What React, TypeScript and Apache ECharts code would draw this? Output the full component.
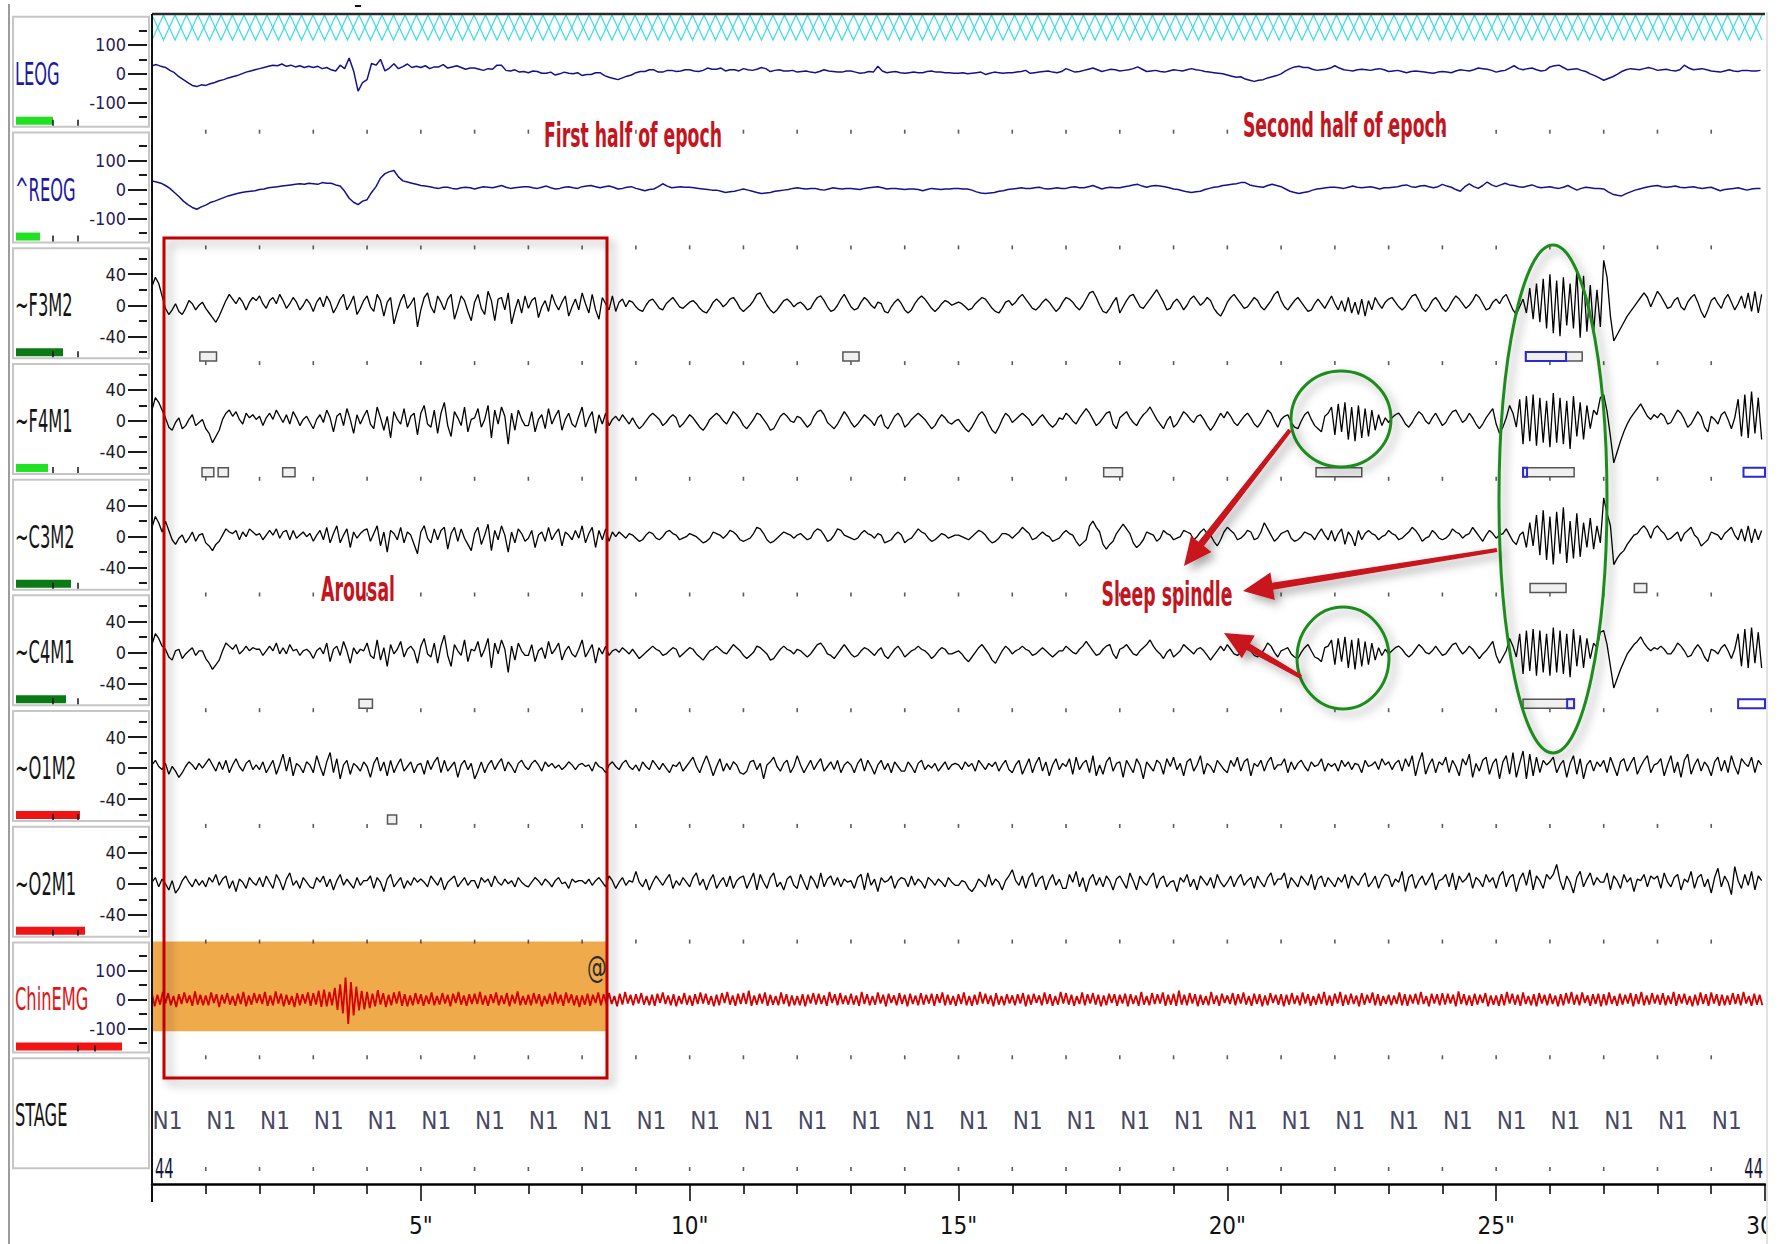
import React, { useEffect, useRef } from "react";
import * as echarts from "echarts";

// ---------------- data ----------------
const epochSeconds = 30;
const eogRate = 12; // samples per second
const eegRate = 16;
const emgRate = 20;

const channelNames = ["LEOG", "^REOG", "~F3M2", "~F4M1", "~C3M2", "~C4M1", "~O1M2", "~O2M1", "ChinEMG"];
const eogMajorTicks = [-100, 0, 100];
const eogMinorTicks = [-150, -50, 50, 150];
const eegMajorTicks = [-40, 0, 40];
const eegMinorTicks = [-60, -20, 20, 60];

const leog = [
  28, 32, 26, 22, 12, 4, -10, -20, -30, -40, -44, -38,
  -40, -34, -30, -24, -20, -14, -10, -6, 0, 6, 10, 14,
  18, 22, 26, 30, 28, 34, 26, 30, 24, 28, 22, 26,
  22, 26, 18, 22, 14, 10, 30, 18, 55, 10, -60, -30,
  -20, 36, 30, 50, 10, 20, 35, 18, 25, 34, 22, 26,
  22, 28, 18, 24, 24, 32, 20, 24, 28, 22, 16, 20,
  20, 16, 12, 18, 16, 30, 30, 12, 10, 14, 6, 8,
  4, 10, 8, 2, 2, 6, -4, 0, 6, 2, 0, 4,
  -6, -2, -2, 4, 4, -6, -12, -16, -20, -14, -8, -4,
  4, 8, 8, 14, 14, 6, 6, 12, 12, 8, 10, 14,
  14, 10, 8, 12, 20, 16, 16, 20, 10, 14, 14, 10,
  18, 14, 12, 16, 22, 18, 8, 12, 14, 10, 10, 12,
  6, 8, 10, 6, 4, 8, 14, 10, 8, 6, 6, 10,
  10, 6, 2, 4, 8, 6, 26, 10, 4, 6, 8, 4,
  2, 4, 6, 4, 4, 8, 10, 6, 6, 4, 4, 2,
  2, 4, 0, 2, 4, 6, -2, 2, 6, 4, 2, 4,
  4, 6, 8, 12, 2, 4, 6, 8, 10, 6, 4, 8,
  18, 12, 6, 8, 12, 16, 20, 14, 8, 12, 16, 14,
  10, 12, 14, 18, 24, 16, 8, 10, 12, 8, 6, 10,
  14, 12, 10, 14, 18, 14, 12, 8, 6, 4, 2, 0,
  -4, -8, -12, -10, -18, -22, -26, -22, -20, -14, -10, -6,
  0, 10, 18, 24, 26, 22, 22, 16, 12, 14, 16, 20,
  28, 20, 14, 12, 10, 14, 16, 14, 12, 16, 18, 14,
  8, 10, 12, 8, 4, 8, 10, 8, 6, 4, 2, 6,
  8, 6, 4, 10, 14, 12, 10, 14, 20, 18, 16, 12,
  6, 10, 12, 20, 28, 18, 14, 18, 20, 14, 10, 12,
  24, 28, 30, 22, 14, 16, 18, 12, 8, 0, -6, -14,
  -22, -16, -10, -2, 8, 14, 18, 16, 14, 18, 22, 18,
  12, 14, 16, 12, 10, 14, 30, 20, 14, 16, 18, 14,
  10, 8, 6, 10, 14, 10, 8, 12, 12, 10, 10, 12,
];

const reog = [
  30, 26, 22, 14, 4, -10, -24, -40, -52, -62, -68, -60,
  -54, -45, -40, -34, -28, -22, -18, -14, -10, -8, -6, -4,
  0, 2, 6, 8, 10, 12, 14, 16, 18, 20, 18, 22,
  20, 18, 24, 22, 22, 16, 12, -6, -30, -44, -52, -40,
  -35, -10, 10, 40, 55, 62, 66, 44, 30, 26, 22, 18,
  14, 12, 10, 6, 4, 8, 8, 4, 2, 6, 8, 6,
  2, 6, 10, 8, 6, 10, 14, 8, 4, 6, 8, 10,
  10, 6, 4, 8, 12, 6, 2, 4, 8, 10, 6, 4,
  10, 12, 14, 10, 6, 10, 12, 8, 2, 4, 8, 10,
  4, 0, -4, 0, 2, 10, 20, 12, 6, 8, 10, 8,
  8, 6, 4, 2, 0, -2, -2, -6, -10, -8, -6, -2,
  2, -2, -6, -10, -14, -12, -10, -6, -4, -2, 0, 4,
  6, 4, 2, 4, 4, 0, -2, 2, 6, 4, 2, 4,
  4, 2, 0, 4, 6, 8, 10, 6, 2, 4, 4, 2,
  0, 2, 2, 0, -4, 0, 4, 2, 0, 2, 2, 4,
  4, 2, 2, -2, -8, -12, -14, -12, -10, -6, -4, 0,
  2, 4, 6, 4, 4, 6, 8, 4, 2, 4, 6, 4,
  4, 8, 10, 6, 6, 10, 14, 8, 2, 6, 8, 6,
  6, 10, 12, 16, 18, 12, 8, 12, 14, 12, 10, 6,
  2, 0, -4, -8, -10, -8, -6, 0, 4, 8, 10, 14,
  16, 18, 20, 24, 24, 16, 12, 10, 8, 14, 18, 14,
  10, 2, -6, -10, -14, -10, -8, -2, 2, 4, 6, 8,
  8, 6, 4, 8, 12, 8, 6, 8, 10, 6, 2, 6,
  6, 8, 10, 14, 16, 10, 8, 12, 14, 10, 6, 10,
  18, 12, 8, 0, -6, 10, 20, 10, 4, 14, 26, 16,
  10, 16, 22, 16, 14, 10, 8, 12, 16, 10, 6, 8,
  10, 6, 4, 8, 14, 6, -2, 4, 8, 6, 4, 4,
  2, -8, -16, -20, -22, -14, -8, -2, 2, 6, 10, 12,
  14, 10, 8, 10, 12, 8, 6, 8, 10, 6, 4, 6,
  8, 2, -4, 0, 2, 4, 6, 2, -2, 2, 4, 4,
];

const f3m2 = [
  24, 36, 28, 12, -4, -12, -6, 2, -8, -12, -4, 6, 2, -6, 0, 4,
  -4, -10, -16, -22, -14, -4, 6, 14, 8, 2, 10, 4, -6, 4, 10, 6,
  12, 2, -4, 6, 10, 2, 14, 6, -4, 2, 10, 4, -6, 0, 8, 2,
  -8, 4, 10, -2, 12, 4, -10, -2, 8, 14, -6, 2, 12, -12, -4, 6,
  12, -2, -8, 14, 6, -14, 4, 10, -24, -8, 6, 14, -4, 2, 10, -28,
  -6, 10, 16, -2, -10, 12, 4, -6, 8, 14, -18, -4, 12, 6, -8, -20,
  4, 14, -4, -12, 18, 6, -20, 8, 10, -6, 16, -24, -6, 8, -10, 12,
  -4, 6, 10, -16, -2, 6, -8, 14, 2, -6, 4, 12, -14, -2, 8, -6,
  16, 2, -10, 14, -6, -18, 10, 2, -6, 12, -8, 4, 8, -2, 6, 4,
  -2, -6, -8, 0, 6, 8, 2, -4, -6, 2, 6, 10, 4, -2, -4, 0,
  4, 6, 2, -4, -8, -10, -4, 4, 8, 4, -2, 2, 8, 10, 4, -4,
  -8, -4, 0, 6, 14, 16, 8, 0, -6, -10, -6, 0, 6, 8, 4, -2,
  2, 4, 0, -6, -4, 4, 10, 12, 6, -2, -8, -6, 0, 8, 14, 6,
  -2, -6, -4, 4, 10, 6, 0, -4, 4, 2, -8, -10, -2, 4, 8, 2,
  -6, -10, -6, 2, 8, 12, 8, 2, -4, -8, -4, 2, 6, 4, 0, 2,
  4, 2, -2, -6, -4, 2, 6, 10, 8, 2, -4, -8, -10, -4, 4, 6,
  0, 4, 10, 14, 8, 2, -4, -6, -2, 4, 8, 4, -2, -8, -4, 4,
  10, 8, 4, -2, -6, 0, 8, 16, 18, 10, 0, -8, -10, -4, 4, 10,
  -10, -2, 6, 12, 14, 6, -2, -4, 2, 8, 14, 20, 12, 4, -6, -4,
  4, 8, 2, -6, 0, 8, 12, 6, 0, 4, 10, 6, -4, -10, -14, -6,
  4, 10, 14, 8, 2, -4, -2, 4, 10, 6, -2, -6, 0, 6, 14, 18,
  6, -2, -6, 0, 6, 10, 4, -2, -8, -6, 2, 8, 2, -4, 4, 12,
  2, -6, 6, -8, 10, -10, 4, -12, 8, -14, 6, -6, 10, 2, -4, 4,
  8, 10, 4, -2, -6, -2, 6, 12, 14, 6, -4, -8, -2, 6, 10, 4,
  -4, -8, -2, 6, 12, 8, 2, -4, 0, 6, 14, 10, 2, -6, -4, 4,
  8, 2, 10, 14, 4, -6, -12, -2, 8, -10, 22, -18, 28, -22, 34, -30,
  40, -36, 32, -40, 36, -26, 28, -30, 44, -42, 38, -34, 26, -34, 20, -28,
  58, 36, -14, -46, -38, -30, -22, -14, -8, -2, 4, 10, 16, 10, -2, 8,
  18, 12, 4, -4, -2, 6, 10, -2, -6, 4, 10, 14, 4, -8, -16, -6,
  6, 10, 2, -4, 8, 14, 4, -6, 2, 12, -4, 16, -8, 18, -10, 14,
];

const f4m1 = [
  14, 30, 24, 14, 4, -8, -12, -2, 4, -10, -6, 2, 8, -6, -2, 2,
  -10, -16, -28, -20, -12, 2, 10, 14, 6, 12, 2, -4, 10, 4, 8, 2,
  6, -6, 4, 10, 2, 14, 6, -2, 8, -4, 12, 4, -6, 2, 6, -2,
  -10, 2, 8, -2, 14, 4, -14, 6, 10, -6, 16, 2, -16, 8, -4, 6,
  14, -4, -10, 18, 4, -12, 6, -22, 12, 2, -4, 16, -8, 6, 10, -18,
  10, 20, -4, -8, 14, -16, 10, 24, -6, -20, 12, 4, -6, 18, -14, 2,
  4, 16, -8, 2, 20, -22, 14, -4, 18, 6, -30, 10, -12, 14, 2, -6,
  -6, 12, -14, 2, 8, -10, 16, -4, 6, 14, -12, 2, 10, -4, -8, 6,
  18, -8, 4, 12, -16, 8, -4, 10, -6, 2, 6, 0, 8, 2, -4, 4,
  -4, -10, -6, 0, 6, 10, 6, 2, -6, -2, 4, 8, 4, -8, -4, 2,
  8, 4, -2, -8, -12, -6, 2, 6, 10, 6, 0, -4, 4, 12, 8, 2,
  -6, -10, -4, 2, 10, 8, 2, -4, -12, -10, -2, 6, 10, 6, 0, -2,
  6, 4, -2, -8, -4, 6, 12, 14, 8, -2, -6, -10, -4, 4, 12, 6,
  -2, -8, -4, 2, 8, 4, 0, -6, 4, 8, -6, -10, -2, 6, 10, 4,
  -8, -4, 2, 6, 10, 6, 2, -4, -10, -6, 2, 8, 4, -2, -4, 0,
  2, -4, -10, -14, -8, 0, 8, 12, 6, -4, -12, -16, -8, 2, 10, 6,
  -2, 2, 6, 10, 6, 2, -6, -2, 4, 8, 2, -4, -8, -4, 4, 2,
  10, 6, 0, -4, 4, 10, 16, 10, 2, -6, -2, 4, 10, 12, -4, -10,
  4, 8, 12, 4, -2, -6, 2, 8, 12, 18, 10, 2, -4, -10, 0, 6,
  -8, -4, 4, 12, 8, 2, -2, 6, 8, 2, -6, -12, -6, 2, 10, 4,
  12, 6, -2, -6, 0, 6, 10, 4, -4, -8, -2, 6, 14, 10, 0, -8,
  2, 6, 8, -2, -8, -10, 0, 8, 12, 2, -6, -10, -14, 6, 10, 18,
  -18, 22, -14, 24, -24, 18, -26, 20, -22, 16, -20, 14, -12, 8, -6, 4,
  -2, 4, 8, 10, 4, -4, -8, -2, 6, 12, 8, 0, -4, 4, 10, 2,
  -6, -2, 6, 12, 14, 6, -2, 2, 10, 4, -4, -10, -4, 4, 10, 16,
  -4, -16, -8, 4, 20, 10, -8, 28, -30, 32, -26, 34, -32, 30, -28, 26,
  -34, 36, -28, 30, -30, 26, -36, 32, -20, 24, -24, 20, -10, 14, 8, 30,
  34, 12, -20, -54, -40, -26, -14, -4, 4, 10, 16, 22, 14, 6, 2, 8,
  4, 10, 6, -4, -2, 6, 14, 10, 2, -8, -4, 4, 12, 6, -8, -14,
  6, 2, -4, 8, 12, 2, -10, 4, 28, -20, 34, -22, 38, -16, 30, -24,
];

const c3m2 = [
  12, 26, 18, 6, 20, 8, -4, -10, -2, 2, -8, -2, 6, -6, 2, 4,
  -8, -12, -18, -10, -6, 2, 10, 6, 4, 8, -4, 6, 0, 10, 6, 2,
  4, -4, 2, 8, 2, 10, -2, 6, 8, -4, 8, -2, 2, 6, 0, 4,
  -6, 2, 8, -4, 12, -8, 4, 14, -8, 2, 10, -14, 6, -2, 4, 8,
  10, -6, 4, 14, -12, 6, -20, 8, 4, -4, 12, -8, 6, 2, -10, -22,
  6, 14, -2, -8, 10, -4, 8, 12, -16, 4, 12, -6, 10, -2, -10, -18,
  4, 12, -10, 2, 16, -18, 8, -4, 14, 2, -20, 6, -8, 10, 4, -6,
  -2, 8, -14, 2, 6, -6, 12, -4, 4, 10, -12, 6, 2, -4, 8, -2,
  14, -8, 4, 12, -14, 8, -4, 10, -6, 6, 0, 6, 2, -2, 4, 2,
  -2, -6, -4, 2, 6, 4, -2, -4, 0, 6, 8, 4, 2, -4, -2, 0,
  4, 2, 0, -4, -8, -6, -2, 6, 4, 2, -2, 2, 8, 6, 2, -4,
  -6, -4, -2, 4, 12, 10, 4, -4, -8, -6, -2, 2, 6, 4, 2, -2,
  2, 4, 0, -4, -2, 6, 10, 8, 2, -6, -4, 2, 10, 8, 2, 0,
  -2, -4, -2, 4, 8, 4, 2, -2, 4, 2, -8, -6, -4, 2, 6, 2,
  -8, -4, -2, 4, 10, 6, 4, -2, -6, -4, 0, 4, 2, -2, 0, 2,
  2, 0, -2, -4, 0, 4, 8, 6, 2, -4, -8, -6, -2, 4, 4, 2,
  -2, 2, 6, 12, 8, 4, -4, -2, 2, 6, 2, 0, -6, -4, -2, 4,
  8, 4, 2, -6, -12, -8, -4, 14, 20, 12, 6, -10, -16, -10, -6, 4,
  10, 16, 10, 4, -8, -14, -10, -4, 6, 4, 2, -6, -2, 8, 4, 2,
  -4, -2, 0, 8, 6, 4, -4, 0, 6, 10, 4, 2, -6, -12, -4, 6,
  12, 8, 4, -4, -2, 2, 8, 6, -4, -2, 6, 18, 10, 2, -6, -2,
  4, 6, 8, -2, -6, -4, 0, 6, 4, 2, -4, 4, 10, 2, -4, 8,
  -6, 4, 10, -10, 6, 0, -12, 8, -4, 4, 8, 4, 2, -4, 0, 2,
  8, 4, 2, -4, -2, 2, 6, 12, 8, 2, -6, -2, 0, 8, 4, -2,
  -4, -2, 2, 10, 6, 4, -2, 2, 4, 12, 6, 0, -6, 2, 8, 4,
  -2, 2, 4, 10, 2, -6, -10, 2, 6, -14, 18, -12, 28, -24, 34, -30,
  26, -36, 32, -22, 38, -34, 20, -28, 30, -26, 18, -14, 24, -16, 14, -8,
  50, 30, 14, -36, -28, -22, -18, -10, -4, 2, 4, 10, 14, 8, -2, 10,
  14, 8, 4, -4, -2, 2, 6, -6, 4, 8, 12, 2, -2, -12, -8, -4,
  6, 4, 2, -4, 4, 8, 12, 2, -4, 10, -6, 14, -8, 10, -4, 8,
];

const c4m1 = [
  10, 24, 18, 8, 4, -6, -10, 2, 4, -8, -2, 2, 6, -4, 2, 2,
  -8, -14, -22, -16, -10, 2, 12, 8, 4, 10, -2, 2, 8, 2, 6, 4,
  4, -4, 2, 8, 2, 12, -2, 6, -2, 10, 2, 4, -4, 2, 4, 0,
  -8, 2, 6, -2, 12, -12, 4, 8, -4, 14, 2, -14, 6, -2, 4, 2,
  12, -4, -8, 16, -10, 6, -18, 10, -2, 4, 14, -6, 4, 8, 2, -14,
  8, 18, -2, -6, 12, -14, 8, 22, -4, -18, 10, 2, -4, 16, -12, 4,
  2, 14, -6, 4, 18, -20, 12, -2, 16, 4, -26, 8, -10, 12, 2, -4,
  -4, 10, -12, 2, 6, -8, 14, -2, 4, 12, -10, 2, 8, -2, -6, 4,
  16, -6, 2, 10, -14, 6, -2, 8, -4, 2, 4, 0, 6, 2, -2, 4,
  -2, -8, -4, 0, 4, 8, 4, 2, -4, -2, 2, 6, 4, -6, -2, 2,
  6, 4, -2, -6, -10, -4, 2, 4, 8, 4, 0, -2, 4, 10, 6, 2,
  -4, -8, -4, 0, 8, 6, 2, -2, -10, -8, -2, 4, 8, 4, 2, -2,
  4, 2, -2, -6, -2, 4, 10, 12, 6, -2, -4, -8, -2, 4, 10, 4,
  -2, -6, -4, 2, 6, 4, 0, -4, 2, 6, -4, -8, -2, 4, 8, 2,
  -6, -2, 2, 4, 8, 4, 2, -2, -8, -4, 2, 6, 4, -2, -2, 0,
  2, -2, -8, -12, -6, 0, 6, 10, 4, -2, -10, -14, -6, 2, 8, 4,
  -2, 2, 4, 8, 4, 2, -4, -2, 2, 6, 2, -2, -6, -2, 2, 2,
  8, 4, 0, -2, 4, 8, 14, 8, 2, -4, -2, 4, 8, 10, -2, -8,
  4, 6, 10, 4, -2, -4, 2, 6, 10, 16, 8, 2, -2, -8, 0, 4,
  -6, -2, 2, 10, 6, 2, -2, 4, 6, 2, -4, -10, -4, 2, 8, 2,
  10, 4, -2, -4, 0, 4, 8, 2, -4, -6, -2, 4, 12, 8, 0, -6,
  2, 4, 6, -2, -6, -8, 0, 6, 10, 2, -6, -8, -12, 6, 8, 16,
  -16, 18, -12, 20, -20, 16, -22, 18, -18, 14, -16, 12, -10, 6, -4, 4,
  -2, 2, 6, 8, 4, -2, -6, -2, 4, 10, 6, 0, -2, 2, 8, 2,
  -4, -2, 4, 10, 12, 4, -2, 2, 8, 4, -2, -8, -2, 2, 8, 14,
  -4, -14, -6, 2, 18, 8, -6, 24, -28, 28, -24, 30, -30, 28, -26, 24,
  -30, 32, -26, 28, -28, 24, -32, 30, -18, 22, -20, 18, -8, 12, 6, 26,
  28, 10, -18, -46, -34, -22, -12, -2, 4, 10, 14, 20, 12, 6, 2, 6,
  4, 8, 4, -2, -2, 4, 12, 8, 2, -6, -4, 4, 10, 4, -6, -12,
  4, 2, -2, 6, 10, 2, -8, 4, 24, -18, 30, -20, 32, -14, 26, -20,
];

const o1m2 = [
  4, 10, 2, -2, 6, -8, 2, -4, -12, -6, 2, 8, 4, -2, 6, 0,
  6, 12, 4, -4, 8, -2, 10, -6, 4, 12, 2, -4, 6, 10, -2, 4,
  -2, 8, -6, 2, 10, -8, 4, 18, -4, 14, -10, 6, 2, -6, 8, 4,
  -6, 16, 2, -10, 8, 20, -6, 12, -14, 4, 10, -8, 6, 2, -4, 8,
  2, -12, 6, 14, -4, 8, -10, 10, -6, 4, 12, -4, 2, 8, -6, 4,
  6, -8, 10, -2, 8, 14, -6, 10, -4, 2, 8, -12, 4, 10, -2, 6,
  -14, -4, 8, -6, 4, 10, -2, 6, 12, -4, 8, 2, -6, 6, 10, 2,
  -2, 6, 10, 4, -4, 8, 2, 6, 0, 4, -2, 2, 8, 4, -2, 4,
  6, 2, 4, -4, 8, 2, 0, -6, 4, 8, 2, -2, 6, 10, 2, -2,
  4, -4, 8, 2, -2, 10, 4, -2, 6, 0, -6, 4, 2, 8, -4, 2,
  8, 14, 2, -6, 6, 16, 4, -10, 2, 12, -4, 6, -2, 8, 4, -6,
  -8, -4, 8, 10, -2, 6, -14, 4, 8, 14, 2, -4, 6, 10, -6, 2,
  16, 4, -6, 2, 10, -2, 6, 12, -4, 2, 8, -2, 10, -6, 4, 8,
  4, -6, 6, 12, -4, 10, 2, -8, 4, 10, -2, 6, -6, 8, 2, -4,
  -4, 8, 2, -6, 6, 10, -2, 4, 0, 6, -4, 2, 8, -2, 4, 6,
  4, -2, 8, 2, 6, -4, 10, 4, -2, 6, 2, 8, -4, 4, 10, -2,
  -6, 4, 10, -8, 2, 12, -6, 6, 14, -4, 8, -10, 4, 12, -2, 6,
  2, 12, -8, 14, -2, 6, 10, -6, 16, -10, 4, -8, 8, 14, -4, 6,
  8, -12, 10, 2, -6, 12, 4, -14, 8, 2, -4, 10, 6, -8, 12, 2,
  14, -2, 6, -10, 8, 12, -4, 4, 16, -8, 6, 2, -6, 10, 4, -2,
  -6, 10, 2, 14, -4, 8, 12, -10, 6, 2, 10, -4, 8, 14, -2, 4,
  4, 12, -6, 8, -2, 6, 10, 2, -4, 8, 2, 4, 12, -4, 6, 2,
  6, -4, 10, 2, 8, -2, 6, 4, -6, 10, 2, 4, 8, -2, 12, 4,
  8, -2, 6, 10, -4, 12, 2, 16, -10, 8, 20, -8, 4, 12, -6, 8,
  4, 14, -6, 10, 2, -10, 12, 4, 18, -12, 6, -4, 10, 14, -8, 6,
  12, -14, 8, 16, -8, 20, -12, 6, 22, -14, 18, -10, 14, -6, 10, 4,
  8, 14, -6, 4, 10, -12, 6, 16, -8, 12, -14, 4, 10, -4, 8, 2,
  10, -6, 14, 2, -10, 8, 12, -4, 6, 14, -8, 2, 10, 16, -6, 4,
  6, 12, -10, 4, 16, -6, 8, -12, 10, 18, -8, 4, 12, -4, 8, 2,
  -10, 8, 14, -4, 10, -6, 16, 2, -8, 12, 6, 2, 14, -6, 10, 4,
];

const o2m1 = [
  2, 8, -4, 6, 0, -8, 4, -12, -6, 4, 10, 2, -4, 6, -2, 4,
  -4, 8, 2, 12, -2, 6, 10, -6, 4, -10, 6, 2, -6, 8, 2, -2,
  8, -4, 10, 2, -6, 12, 4, -8, 6, 14, -2, 4, -6, 8, 2, -4,
  -6, 8, 2, 10, -4, 6, -8, 4, 12, -2, 6, 0, -6, 8, -2, 4,
  4, 10, -6, 8, 2, -10, 6, 12, -4, 2, 8, -6, 4, -2, 8, 2,
  6, 2, -4, 10, 4, -2, 8, -8, 2, 6, 10, -4, 2, 8, -2, 4,
  4, -6, 8, 2, 6, -4, 10, 2, -2, 6, 0, 4, -4, 8, 2, -2,
  -4, 2, 8, 4, -2, 6, 2, -4, 4, 8, 0, 2, -6, 6, 2, 4,
  4, 0, 6, -2, 4, 8, 2, -4, 10, 4, -6, 2, 8, -2, 4, 2,
  16, 2, -4, 6, -8, 2, 10, 4, -2, 6, 12, -6, 4, -2, 8, 2,
  -4, 8, 14, -2, 6, -8, 4, 12, -6, 2, 8, -4, 10, -6, 4, 8,
  10, -6, 4, 14, -8, 12, 2, -6, 8, 14, -4, 2, -8, 6, 10, -2,
  -6, 12, 2, -8, 10, 4, -6, 14, -4, 6, 10, -2, 8, -4, 6, 2,
  4, -6, 8, 12, -8, 14, -2, 6, -10, 8, 2, 4, 10, -6, 4, 8,
  6, -4, 10, -2, 6, 2, -6, 8, 4, -2, 6, 2, -4, 8, 2, -2,
  -2, 4, 2, -6, -10, -4, 6, 2, -4, 12, -2, 6, 2, -8, 4, 10,
  18, 4, -2, 10, -6, 8, 14, -4, 6, 10, -8, 4, 12, -2, 6, -6,
  -6, 12, 2, 16, -4, 8, -10, 6, 12, -2, 8, -4, 10, 4, -8, 6,
  10, 2, -6, 14, 4, -8, 10, 2, -2, 8, 14, -6, 6, 10, -4, 2,
  4, -10, 8, 2, 12, -4, 6, -8, 10, 4, -2, 8, -6, 12, 2, -4,
  2, 10, -4, 6, 12, -2, 4, 8, -6, 10, 2, -4, 8, 14, -2, 6,
  6, 14, -6, 8, 2, -4, 10, 4, -2, 12, -8, 6, 10, -4, 8, 2,
  -4, 8, 2, 12, -6, 10, 4, -2, 8, 14, -4, 2, 10, -6, 6, 12,
  10, -4, 6, 2, 16, -10, 8, 12, -6, 4, 10, -2, 6, 14, -8, 4,
  6, 12, -4, 14, -8, 10, 2, 6, 14, -6, 8, 4, -4, 12, 2, 8,
  -6, 10, 16, -4, 8, 12, -10, 6, 14, -2, 18, -8, 10, 4, -6, 12,
  6, 12, 25, 4, -8, 10, 2, -12, 8, 16, -4, 6, 14, -2, 8, 2,
  2, 14, -8, 10, 4, -6, 12, 2, 8, -10, 6, 4, 12, -4, 10, 6,
  10, -6, 14, 2, -4, 8, 12, -8, 6, 2, 16, -6, 8, 12, -4, 6,
  -12, 8, 20, -4, 10, 2, -14, 22, 4, -6, 12, -2, 16, -8, 10, 4,
];

const chinEmg = [
  20, -24, 16, -18, 26, -14, 22, -20, 12, -26, 18, -16, 24, -12, 14, -22, 28, -18, 16, -20,
  14, -20, 24, -12, 18, -26, 16, -14, 22, -18, 12, -22, 20, -16, 26, -24, 14, -18, 22, -12,
  18, -16, 26, -22, 14, -20, 28, -14, 20, -24, 16, -18, 12, -26, 22, -20, 18, -14, 24, -22,
  22, -18, 30, -26, 34, -24, 26, -20, 40, -36, 52, -48, 76, -85, 60, -55, 44, -38, 30, -34,
  26, -30, 20, -24, 32, -18, 22, -26, 16, -20, 24, -14, 28, -22, 18, -24, 14, -20, 22, -16,
  18, -22, 14, -16, 24, -20, 12, -18, 22, -14, 16, -24, 20, -12, 26, -18, 14, -22, 18, -16,
  20, -16, 26, -18, 14, -22, 18, -12, 24, -20, 14, -16, 22, -24, 16, -14, 28, -20, 12, -18,
  16, -20, 22, -14, 18, -24, 12, -16, 20, -18, 26, -14, 16, -22, 24, -12, 18, -20, 14, -26,
  14, -18, 20, -22, 16, -12, 24, -20, 18, -14, 22, -16, 12, -24, 20, -18, 26, -14, 16, -20,
  18, -14, 22, -18, 12, -20, 16, -22, 20, -12, 24, -16, 14, -20, 18, -24, 12, -16, 22, -18,
  14, -22, 18, -16, 24, -14, 20, -18, 12, -24, 16, -20, 22, -12, 26, -18, 14, -22, 20, -16,
  22, -16, 30, -22, 14, -18, 20, -14, 24, -22, 16, -18, 12, -20, 24, -16, 18, -24, 14, -20,
  12, -20, 18, -24, 16, -14, 22, -18, 20, -16, 14, -22, 26, -12, 18, -20, 22, -16, 14, -18,
  20, -18, 14, -22, 26, -16, 18, -20, 12, -18, 24, -14, 16, -24, 20, -12, 14, -20, 22, -16,
  16, -24, 20, -16, 14, -20, 22, -18, 16, -14, 20, -22, 18, -12, 24, -20, 16, -18, 12, -22,
  18, -16, 24, -20, 12, -22, 16, -18, 26, -14, 20, -16, 14, -24, 22, -18, 12, -20, 18, -14,
  14, -20, 18, -14, 22, -24, 16, -18, 20, -12, 14, -20, 24, -16, 18, -22, 12, -18, 26, -14,
  22, -18, 16, -22, 12, -16, 24, -20, 18, -14, 22, -18, 16, -24, 14, -20, 20, -12, 18, -22,
  16, -14, 20, -24, 18, -16, 14, -22, 26, -18, 12, -20, 22, -16, 18, -14, 24, -22, 16, -18,
  20, -22, 30, -18, 16, -20, 22, -14, 18, -24, 16, -18, 12, -20, 26, -16, 14, -22, 20, -12,
  14, -16, 22, -20, 18, -14, 24, -18, 12, -22, 20, -16, 18, -24, 14, -20, 22, -12, 16, -18,
  18, -24, 16, -18, 22, -16, 14, -20, 24, -14, 18, -22, 12, -18, 20, -16, 26, -20, 14, -22,
  20, -14, 26, -22, 16, -18, 20, -16, 14, -24, 22, -18, 16, -12, 24, -20, 18, -22, 12, -16,
  16, -20, 14, -16, 24, -20, 18, -22, 16, -14, 20, -18, 26, -16, 12, -24, 20, -14, 18, -20,
  22, -18, 20, -14, 16, -24, 28, -16, 18, -20, 14, -22, 20, -18, 16, -12, 22, -24, 14, -18,
  14, -22, 18, -20, 26, -14, 20, -18, 16, -22, 24, -16, 12, -20, 18, -24, 22, -14, 16, -20,
  20, -16, 14, -24, 18, -20, 22, -14, 26, -18, 16, -20, 24, -12, 14, -22, 18, -16, 20, -24,
  18, -20, 24, -16, 12, -22, 20, -18, 16, -14, 22, -24, 18, -16, 26, -20, 14, -18, 22, -14,
  16, -18, 22, -20, 14, -16, 26, -22, 18, -14, 20, -18, 12, -24, 16, -20, 24, -16, 18, -22,
  24, -14, 18, -22, 16, -20, 14, -18, 22, -16, 18, -20, 26, -14, 12, -22, 20, -18, 16, -20,
];

const stageLabels = [
  "N1", "N1", "N1", "N1", "N1", "N1", "N1", "N1", "N1", "N1",
  "N1", "N1", "N1", "N1", "N1", "N1", "N1", "N1", "N1", "N1",
  "N1", "N1", "N1", "N1", "N1", "N1", "N1", "N1", "N1", "N1",
];
const epochNumber = "44";

// scored events: boundary row between channels, start/end seconds, kind (g = gray, b = blue)
const eventBoundary = [3, 3, 3, 3, 4, 4, 4, 4, 4, 4, 4, 4, 5, 5, 6, 6, 6, 6, 7];
const eventStart = [0.89, 12.85, 25.55, 25.55, 0.93, 1.23, 2.43, 17.7, 21.65, 25.5, 25.5, 29.6, 25.63, 27.57, 3.85, 25.5, 26.32, 29.5, 4.38];
const eventEnd = [1.2, 13.15, 26.6, 26.3, 1.15, 1.42, 2.66, 18.05, 22.5, 26.45, 25.56, 30.0, 26.3, 27.8, 4.1, 26.45, 26.45, 30.0, 4.55];
const eventKind = ["g", "g", "g", "b", "g", "g", "g", "g", "g", "g", "b", "b", "g", "g", "g", "g", "b", "b", "g"];

const arousalStart = 0;
const arousalEnd = 8.45;
const markerSecond = 15;

// ---------------- layout / style ----------------
const W = 1785;
const H = 1244;
const PLOT_L = 152;
const PLOT_R = 1765;
const ROW_TOP = 16;
const ROW_H = 115.7;
const AXIS_Y = 1184;
const FONT_N = "'Liberation Sans Narrow','Arial Narrow','DejaVu Sans Condensed',sans-serif";

const traces = [leog, reog, f3m2, f4m1, c3m2, c4m1, o1m2, o2m1, chinEmg];
const rates = [eogRate, eogRate, eegRate, eegRate, eegRate, eegRate, eegRate, eegRate, emgRate];
const ranges = [200, 200, 74.6, 74.6, 74.6, 74.6, 74.6, 74.6, 200];
const traceColors = ["#12128c", "#12128c", "#000", "#000", "#000", "#000", "#000", "#000", "#d80000"];
const traceWidths = [1.5, 1.5, 1.3, 1.3, 1.3, 1.3, 1.3, 1.3, 1.8];
const nameColors = ["#1a1aa6", "#1a1aa6", "#141414", "#141414", "#141414", "#141414", "#141414", "#141414", "#e01414"];
const tickLabelColors = ["#2a1a5c", "#2a1a5c", "#1c1c2c", "#1c1c2c", "#1c1c2c", "#1c1c2c", "#1c1c2c", "#1c1c2c", "#2a1a5c"];
const barColors = ["#22e022", "#22e022", "#0a7a14", "#22e022", "#0a7a14", "#0a7a14", "#f01414", "#f01414", "#f01414"];
const barWidths = [37, 24, 47, 32, 55, 50, 64, 69, 106];

const px = (t: number) => PLOT_L + (t * (PLOT_R - PLOT_L)) / epochSeconds;
const rowCenter = (i: number) => ROW_TOP + (i + 0.5) * ROW_H;

function toPairs(vals: number[], rate: number) {
  return vals.map((v, i) => [i / rate, v]);
}

function arrowPoints(x1: number, y1: number, x2: number, y2: number, shaft: number, headLen: number, headHalf: number) {
  const dx = x2 - x1, dy = y2 - y1;
  const L = Math.hypot(dx, dy);
  const ux = dx / L, uy = dy / L, nx = -uy, ny = ux;
  const bx = x2 - ux * headLen, by = y2 - uy * headLen;
  return [
    [x1 + nx * shaft * 0.6, y1 + ny * shaft * 0.6],
    [bx + nx * shaft, by + ny * shaft],
    [bx + nx * headHalf, by + ny * headHalf],
    [x2, y2],
    [bx - nx * headHalf, by - ny * headHalf],
    [bx - nx * shaft, by - ny * shaft],
    [x1 - nx * shaft * 0.6, y1 - ny * shaft * 0.6],
  ];
}

function buildOption() {
  const plotW = PLOT_R - PLOT_L;
  const grids: any[] = [];
  const xAxes: any[] = [];
  const yAxes: any[] = [];
  const series: any[] = [];

  channelNames.forEach((_, i) => {
    grids.push({ left: PLOT_L, top: ROW_TOP + i * ROW_H, width: plotW, height: ROW_H, outerBoundsMode: "none", containLabel: false });
    xAxes.push({ gridIndex: i, type: "value", min: 0, max: epochSeconds, show: false, axisLine: { onZero: false } });
    const R = ranges[i];
    const isEeg = R < 100;
    const major = isEeg ? eegMajorTicks : eogMajorTicks;
    const minor = isEeg ? eegMinorTicks : eogMinorTicks;
    // labelled long ticks on the left
    yAxes.push({
      gridIndex: i, type: "value", min: -R, max: R, position: "left", offset: 5,
      axisLine: { show: false, onZero: false }, splitLine: { show: false },
      axisTick: { show: true, length: 19, customValues: major, lineStyle: { color: "#1a1a1a", width: 2 } },
      axisLabel: { show: true, customValues: major, margin: 21, fontSize: 18, fontFamily: FONT_N, color: tickLabelColors[i] },
    });
    // short ticks: a right-side axis moved back to the left edge, ticks pointing left
    yAxes.push({
      gridIndex: i, type: "value", min: -R, max: R, position: "right", offset: -(plotW + 5),
      axisLine: { show: false, onZero: false }, splitLine: { show: false }, axisLabel: { show: false },
      axisTick: { show: true, inside: true, length: 8, customValues: minor, lineStyle: { color: "#1a1a1a", width: 2 } },
    });
    const s: any = {
      type: "line", xAxisIndex: i, yAxisIndex: 2 * i, data: toPairs(traces[i], rates[i]),
      showSymbol: false, symbol: "none", silent: true, clip: true, z: 3,
      lineStyle: { color: traceColors[i], width: traceWidths[i] },
    };
    if (i === 8) {
      s.markArea = {
        silent: true, itemStyle: { color: "#efaa4c" },
        data: [[{ xAxis: arousalStart, yAxis: 200 }, { xAxis: arousalEnd, yAxis: -110 }]],
      };
    }
    series.push(s);
  });

  // background grid (index 9) : time axis, dots, stage labels, events
  const bgRows = (AXIS_Y - ROW_TOP) / ROW_H;
  grids.push({ left: PLOT_L, top: ROW_TOP, width: plotW, height: AXIS_Y - ROW_TOP, outerBoundsMode: "none", containLabel: false });
  xAxes.push({
    gridIndex: 9, type: "value", min: 0, max: epochSeconds, interval: 5, position: "bottom",
    axisLine: { show: true, onZero: false, lineStyle: { color: "#000", width: 2.5 } },
    axisTick: { show: true, length: 17, lineStyle: { color: "#000", width: 1.5 } },
    minorTick: { show: true, splitNumber: 5, length: 10, lineStyle: { color: "#000", width: 1.5 } },
    axisLabel: {
      show: true, margin: 30, fontSize: 24, fontFamily: FONT_N, color: "#111",
      formatter: (v: number) => (v === 0 ? "" : `${v}"`),
    },
    splitLine: { show: false },
  });
  yAxes.push({ gridIndex: 9, type: "value", min: 0, max: bgRows, inverse: true, show: false, axisLine: { onZero: false } });
  const BG_Y = 18;

  const stageRowY = (1121 - ROW_TOP) / ROW_H;
  const epochRowY = (1169 - ROW_TOP) / ROW_H;
  const dots: number[][] = [];
  for (let b = 1; b <= 9; b++) for (let s = 1; s < epochSeconds; s++) dots.push([s, b]);
  for (let s = 1; s < epochSeconds; s++) dots.push([s, epochRowY]);
  series.push({
    type: "scatter", xAxisIndex: 9, yAxisIndex: BG_Y, data: dots, symbol: "rect",
    symbolSize: [1.6, 4], itemStyle: { color: "#333" }, silent: true, z: 1,
  });
  series.push({
    type: "scatter", xAxisIndex: 9, yAxisIndex: BG_Y,
    data: stageLabels.map((_, i) => [i, stageRowY]),
    symbolSize: 1, itemStyle: { color: "rgba(0,0,0,0)" }, silent: true, z: 4,
    label: {
      show: true, position: "right", distance: 0, fontSize: 24, fontFamily: FONT_N, color: "#15153a",
      formatter: (p: any) => stageLabels[p.dataIndex],
    },
  });
  series.push({
    type: "custom", xAxisIndex: 9, yAxisIndex: BG_Y, silent: true, z: 6,
    data: eventStart.map((s, i) => [s, eventEnd[i], eventBoundary[i], i]),
    encode: { x: [0, 1], y: 2 },
    renderItem: (_p: any, api: any) => {
      const s = api.value(0), e = api.value(1), b = api.value(2), idx = api.value(3);
      const p0 = api.coord([s, b]);
      const p1 = api.coord([e, b]);
      const blue = eventKind[idx] === "b";
      return {
        type: "rect",
        shape: { x: p0[0], y: p0[1] - 11, width: Math.max(p1[0] - p0[0], 4), height: 9 },
        style: { fill: blue ? "rgba(255,255,255,0)" : "#f0f0f0", stroke: blue ? "#2a2ad0" : "#555", lineWidth: blue ? 2 : 1.5 },
      };
    },
  });

  // ---------------- graphics ----------------
  const g: any[] = [];
  g.push({ type: "line", z: 0, shape: { x1: 9, y1: 4, x2: 9, y2: H }, style: { stroke: "#9c9c9c", lineWidth: 2 } });
  for (let i = 0; i <= 9; i++) {
    const c = rowCenter(i);
    g.push({ type: "rect", z: 0, shape: { x: 13, y: c - 57, width: 136, height: 110 }, style: { fill: "#fff", stroke: "#c6c6c6", lineWidth: 2 } });
  }
  const nameStyle = (text: string, fill: string) => ({
    text, font: `21px ${FONT_N}`, fill, textAlign: "left", textVerticalAlign: "middle", align: "left", verticalAlign: "middle",
  });
  channelNames.forEach((name, i) => {
    const c = rowCenter(i);
    g.push({ type: "text", z: 5, x: 15, y: c, scaleX: 0.86, scaleY: 1.5, style: nameStyle(name, nameColors[i]) });
    g.push({ type: "rect", z: 4, shape: { x: 16, y: c + 43, width: barWidths[i], height: 8 }, style: { fill: barColors[i] } });
    const tx = i === 8 ? [78, 95] : [53, 78];
    tx.forEach((x) => g.push({ type: "line", z: 5, shape: { x1: x, y1: c + 46, x2: x, y2: c + 52 }, style: { stroke: "#111", lineWidth: 1.5 } }));
  });
  g.push({ type: "text", z: 5, x: 15, y: rowCenter(9), scaleX: 0.86, scaleY: 1.5, style: nameStyle("STAGE", "#141414") });

  // hatch band at top
  const half = 11.5;
  const z1: number[][] = [];
  const z2: number[][] = [];
  let k = 0;
  for (let x = PLOT_L; x <= PLOT_R + 0.1; x += half, k++) {
    z1.push([x, k % 2 ? 40 : 15]);
    z2.push([x, k % 2 ? 15 : 40]);
  }
  g.push({ type: "polyline", z: 5, shape: { points: z1 }, style: { stroke: "#3cdce8", lineWidth: 1.2, fill: null } });
  g.push({ type: "polyline", z: 5, shape: { points: z2 }, style: { stroke: "#3cdce8", lineWidth: 1.2, fill: null } });

  // borders
  g.push({ type: "line", z: 8, shape: { x1: PLOT_L, y1: 14, x2: PLOT_R, y2: 14 }, style: { stroke: "#2a2a2a", lineWidth: 2.5 } });
  g.push({ type: "line", z: 8, shape: { x1: PLOT_L, y1: 14, x2: PLOT_L, y2: 1202 }, style: { stroke: "#111", lineWidth: 2 } });
  g.push({ type: "line", z: 8, shape: { x1: 355, y1: 6, x2: 361, y2: 6 }, style: { stroke: "#111", lineWidth: 2 } });

  // epoch number
  g.push({ type: "text", z: 5, x: 155, y: 1169, scaleX: 0.86, scaleY: 1.4, style: { text: epochNumber, font: `19px ${FONT_N}`, fill: "#15153a", textAlign: "left", textVerticalAlign: "middle", align: "left", verticalAlign: "middle" } });
  g.push({ type: "text", z: 5, x: 1763, y: 1169, scaleX: 0.86, scaleY: 1.4, style: { text: epochNumber, font: `19px ${FONT_N}`, fill: "#15153a", textAlign: "right", textVerticalAlign: "middle", align: "right", verticalAlign: "middle" } });

  // annotations
  const shadow = { shadowBlur: 10, shadowColor: "rgba(0,0,0,0.35)", shadowOffsetX: 5, shadowOffsetY: 5 };
  g.push({ type: "line", z: 50, shape: { x1: px(markerSecond), y1: 6, x2: px(markerSecond), y2: 1175 }, style: { stroke: "#b40000", lineWidth: 3, ...shadow } });
  g.push({ type: "rect", z: 50, shape: { x: 164, y: 238, width: 443, height: 840 }, style: { fill: null, stroke: "#c00000", lineWidth: 3, ...shadow } });
  g.push({ type: "text", z: 55, x: 597, y: 968, scaleY: 1.35, style: { text: "@", font: `22px ${FONT_N}`, fill: "#2a2a2a", textAlign: "center", textVerticalAlign: "middle", align: "center", verticalAlign: "middle" } });

  const green = { fill: null, stroke: "#1e8c1e", lineWidth: 3, ...shadow };
  g.push({ type: "ellipse", z: 50, shape: { cx: 1341, cy: 419, rx: 50, ry: 48 }, style: green });
  g.push({ type: "ellipse", z: 50, shape: { cx: 1343, cy: 658, rx: 46, ry: 51 }, style: green });
  g.push({ type: "ellipse", z: 50, shape: { cx: 1553, cy: 499, rx: 54, ry: 254 }, style: green });

  const red = { fill: "#c8121c", ...shadow };
  g.push({ type: "polygon", z: 52, shape: { points: arrowPoints(1290, 430, 1184, 566, 3.5, 28, 13) }, style: red });
  g.push({ type: "polygon", z: 52, shape: { points: arrowPoints(1497, 550, 1243, 591, 3.5, 30, 14) }, style: red });
  g.push({ type: "polygon", z: 52, shape: { points: arrowPoints(1301, 677, 1224, 633, 3.5, 28, 13) }, style: red });

  const annText = (text: string, x: number, y: number) => ({
    type: "text", z: 55, x, y, scaleX: 0.8, scaleY: 1.4,
    style: { text, font: `bold 24px ${FONT_N}`, fill: "#c4141e", textAlign: "center", textVerticalAlign: "middle", align: "center", verticalAlign: "middle" },
  });
  g.push(annText("First half of epoch", 633, 135));
  g.push(annText("Second half of epoch", 1345, 125));
  g.push(annText("Arousal", 358, 589));
  g.push(annText("Sleep spindle", 1167, 594));

  // right clipping edge
  g.push({ type: "rect", z: 200, shape: { x: PLOT_R + 2, y: 0, width: W - PLOT_R, height: H }, style: { fill: "#fff" } });
  g.push({ type: "line", z: 201, shape: { x1: PLOT_R + 2, y1: 12, x2: PLOT_R + 2, y2: H }, style: { stroke: "#e2e2e2", lineWidth: 2 } });

  return {
    animation: false,
    backgroundColor: "#fff",
    grid: grids,
    xAxis: xAxes,
    yAxis: yAxes,
    series,
    graphic: { elements: g },
  };
}

export default function App() {
  const ref = useRef<HTMLDivElement>(null);
  useEffect(() => {
    if (!ref.current) return;
    const chart = echarts.init(ref.current, null, { renderer: "svg" });
    chart.setOption(buildOption());
    return () => chart.dispose();
  }, []);
  return (
    <div
      ref={ref}
      style={{ position: "absolute", left: 0, top: 0, width: W, height: H, background: "#fff" }}
    />
  );
}
